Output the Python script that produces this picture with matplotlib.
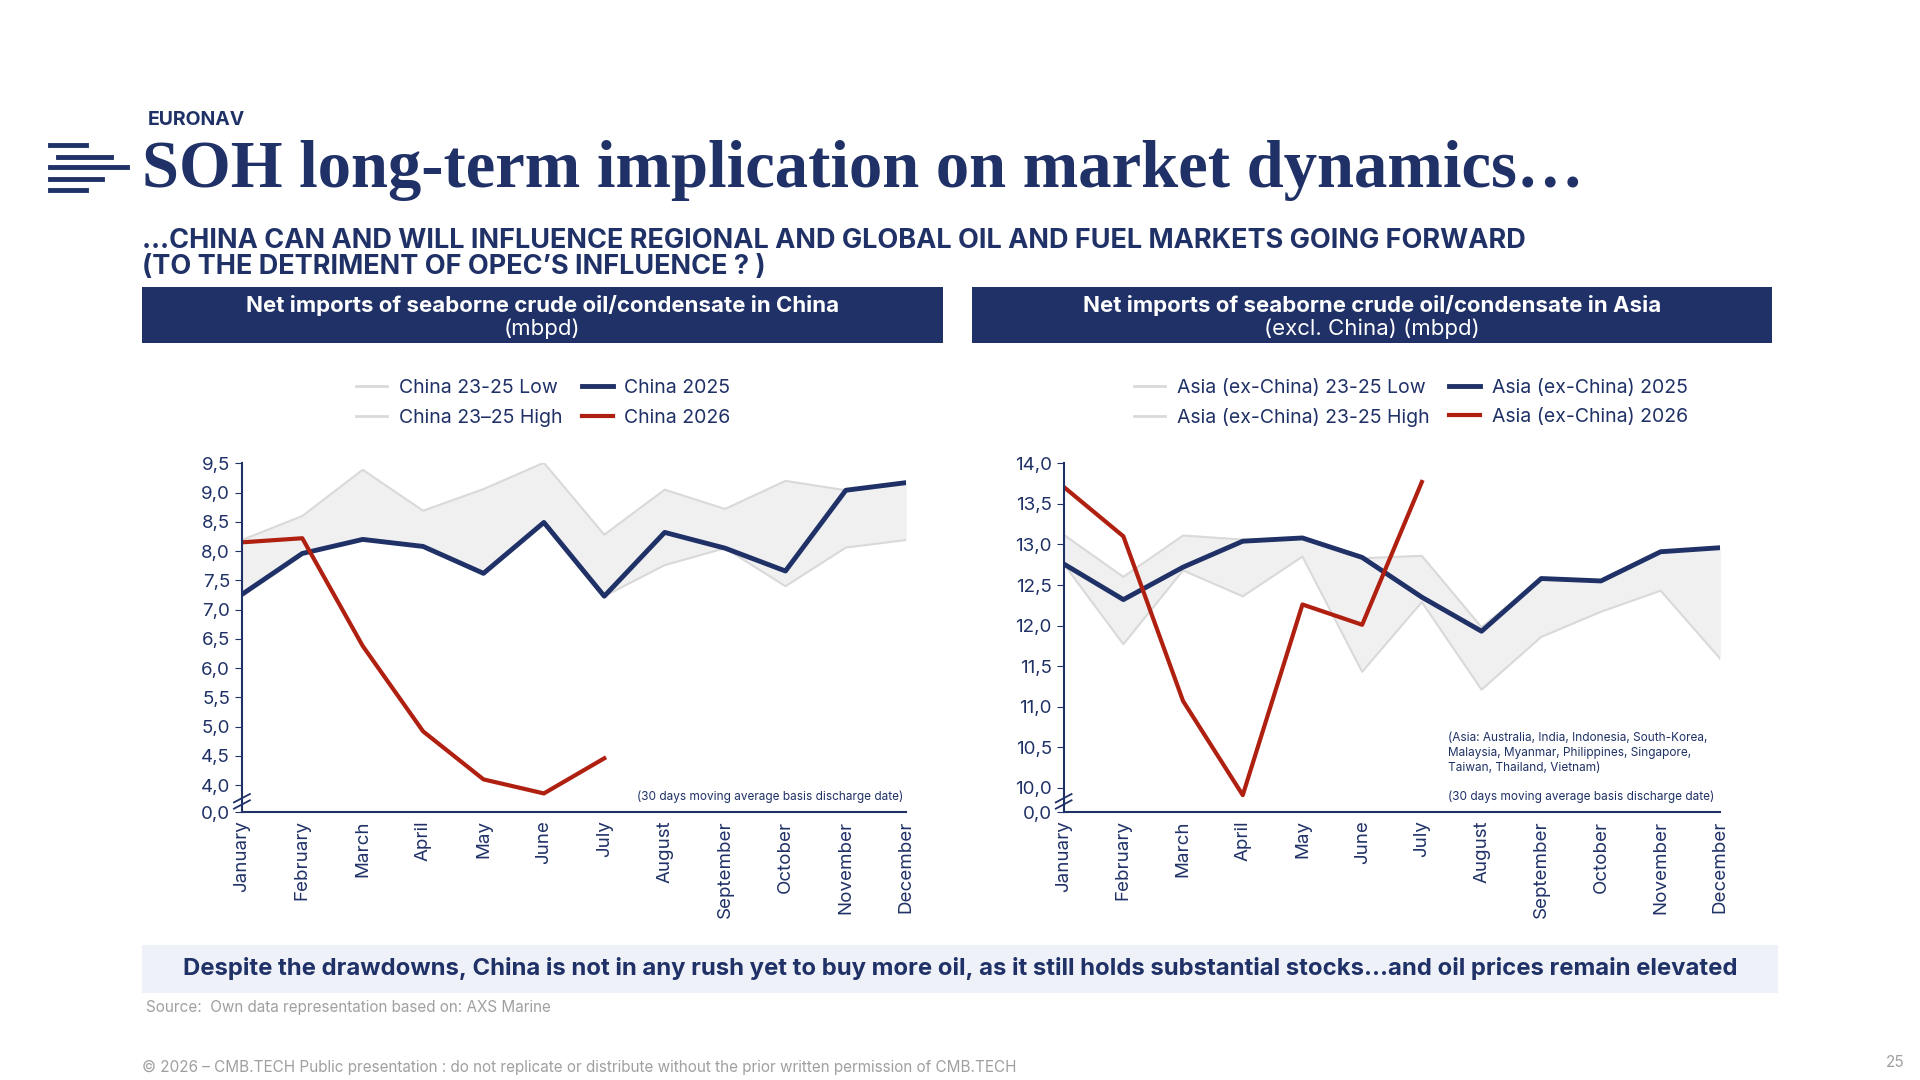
import numpy as np
import matplotlib
matplotlib.use("Agg")
from matplotlib import pyplot as plt
from matplotlib.patches import Rectangle

plt.rcParams['font.family'] = ['Inter', 'DejaVu Sans']

NAVY = "#1f3166"
RED = "#b02010"
GREY = "#d9d9d9"
FILL = "#f0f0f0"

months = ["January", "February", "March", "April", "May", "June", "July",
          "August", "September", "October", "November", "December"]
x = np.arange(12)

china = {
    "low": [7.26, 7.96, 8.20, 8.08, 7.62, 8.49, 7.23, 7.76, 8.05, 7.40, 8.06, 8.19],
    "high": [8.19, 8.60, 9.39, 8.69, 9.06, 9.51, 8.28, 9.05, 8.72, 9.20, 9.04, 9.17],
    "2025": [7.26, 7.96, 8.20, 8.08, 7.62, 8.49, 7.23, 8.32, 8.05, 7.66, 9.04, 9.17],
    "2026": [8.15, 8.22, 6.38, 4.92, 4.10, 3.86, 4.46],
}
asia = {
    "low": [12.76, 11.77, 12.68, 12.36, 12.85, 11.43, 12.29, 11.21, 11.86, 12.17, 12.43, 11.59],
    "high": [13.12, 12.60, 13.11, 13.06, 13.08, 12.83, 12.86, 11.98, 12.58, 12.55, 12.91, 12.96],
    "2025": [12.76, 12.32, 12.72, 13.04, 13.08, 12.84, 12.35, 11.93, 12.58, 12.55, 12.91, 12.96],
    "2026": [13.71, 13.10, 11.07, 9.91, 12.26, 12.01, 13.77],
}

fig = plt.figure(figsize=(19.2, 10.8), dpi=100)


def draw_panel(rect, d, name, ymin, ymax, ticks, header, sub, legend_x, notes):
    ax = fig.add_axes(rect)
    ax.fill_between(x, d["low"], d["high"], color=FILL, lw=0)
    ax.plot(x, d["low"], color=GREY, lw=1.5)
    ax.plot(x, d["high"], color=GREY, lw=1.5)
    ax.plot(x, d["2025"], color=NAVY, lw=3.5)
    ax.plot(x[:len(d["2026"])], d["2026"], color=RED, lw=3)
    ax.set_xlim(0, 11)
    ax.set_ylim(ymin, ymax)
    ax.set_yticks([ymin] + ticks)
    ax.set_yticklabels(["0,0"] + [f"{t:.1f}".replace(".", ",") for t in ticks])
    ax.set_xticks(x)
    ax.set_xticklabels(months, rotation=90, fontsize=13.5, color=NAVY)
    ax.tick_params(axis="y", labelsize=13.5, labelcolor=NAVY, color=NAVY, length=5)
    ax.tick_params(axis="x", length=0, pad=6)
    for s in ["top", "right"]:
        ax.spines[s].set_visible(False)
    for s in ["left", "bottom"]:
        ax.spines[s].set_color(NAVY)
        ax.spines[s].set_linewidth(1.5)
    # axis break marks
    kw = dict(transform=ax.transAxes, color=NAVY, lw=1.3, clip_on=False)
    for dy in (0.022, 0.04):
        ax.plot([-0.012, 0.012], [dy - 0.012, dy + 0.012], **kw)
    for t in notes:
        ax.text(t[0], t[1], t[2], transform=ax.transAxes, fontsize=8.5, color=NAVY,
                ha="left", va="bottom", linespacing=1.3)

    h = [plt.Line2D([], [], color=GREY, lw=2), plt.Line2D([], [], color=GREY, lw=2),
         plt.Line2D([], [], color=NAVY, lw=3.5), plt.Line2D([], [], color=RED, lw=3)]
    high = f"{name} 23\u201325 High" if name == "China" else f"{name} 23-25 High"
    labels = [f"{name} 23-25 Low", high, f"{name} 2025", f"{name} 2026"]
    fig.legend(h, labels, ncol=2, frameon=False, fontsize=14, labelcolor=NAVY,
               loc="center", bbox_to_anchor=(legend_x, 0.627),
               handlelength=1.6, columnspacing=1.0, handletextpad=0.6, labelspacing=0.6)
    # header bar
    fig.patches.append(Rectangle((header[0], 0.682), header[1], 0.052, transform=fig.transFigure,
                                 facecolor=NAVY, edgecolor="none"))
    fig.text(header[0] + header[1] / 2, 0.717, sub[0], ha="center", va="center", color="white",
             fontsize=16, fontweight="bold")
    fig.text(header[0] + header[1] / 2, 0.696, sub[1], ha="center", va="center", color="white",
             fontsize=16)
    return ax


draw_panel([0.126, 0.248, 0.346, 0.323], china, "China", 3.54, 9.5,
           [4.0, 4.5, 5.0, 5.5, 6.0, 6.5, 7.0, 7.5, 8.0, 8.5, 9.0, 9.5],
           (0.074, 0.417),
           ("Net imports of seaborne crude oil/condensate in China", "(mbpd)"), 0.283,
           [(0.595, 0.025, "(30 days moving average basis discharge date)")])
draw_panel([0.554, 0.248, 0.342, 0.323], asia, "Asia (ex-China)", 9.70, 14.0,
           [10.0, 10.5, 11.0, 11.5, 12.0, 12.5, 13.0, 13.5, 14.0],
           (0.506, 0.417),
           ("Net imports of seaborne crude oil/condensate in Asia", "(excl. China) (mbpd)"), 0.735,
           [(0.585, 0.11, "(Asia: Australia, India, Indonesia, South-Korea,\nMalaysia, Myanmar, Philippines, Singapore,\nTaiwan, Thailand, Vietnam)"),
            (0.585, 0.025, "(30 days moving average basis discharge date)")])

# titles
fig.text(0.077, 0.889, "EURONAV", fontsize=14, fontweight="bold", color=NAVY, va="center")
fig.text(0.074, 0.842, "SOH long-term implication on market dynamics\u2026", fontsize=48,
         fontweight="bold", color=NAVY, va="center", family=["Liberation Serif", "DejaVu Serif"])
fig.text(0.074, 0.765, "\u2026CHINA CAN AND WILL INFLUENCE REGIONAL AND GLOBAL OIL AND FUEL MARKETS GOING FORWARD\n(TO THE DETRIMENT OF OPEC\u2019S INFLUENCE ? )",
         fontsize=19.5, fontweight="bold", color=NAVY, va="center", linespacing=1.0)

# logo stripes
for yy, x0, x1 in [(0.866, 0.026, 0.045), (0.855, 0.030, 0.058), (0.845, 0.026, 0.066),
                   (0.834, 0.026, 0.053), (0.824, 0.026, 0.045)]:
    fig.add_artist(plt.Line2D([x0, x1], [yy, yy], color=NAVY, lw=3.5, transform=fig.transFigure))

# bottom banner
fig.patches.append(Rectangle((0.074, 0.081), 0.852, 0.044, transform=fig.transFigure,
                             facecolor="#eef1f8", edgecolor="none"))
fig.text(0.5, 0.103, "Despite the drawdowns, China is not in any rush yet to buy more oil, as it still holds substantial stocks\u2026and oil prices remain elevated",
         ha="center", va="center", fontsize=17.2, fontweight="bold", color=NAVY)
fig.text(0.076, 0.067, "Source:  Own data representation based on: AXS Marine", fontsize=11,
         color="#a0a0a0", va="center")
fig.text(0.074, 0.012, "\u00a9 2026 \u2013 CMB.TECH Public presentation : do not replicate or distribute without the prior written permission of CMB.TECH",
         fontsize=11, color="#a0a0a0", va="center")
fig.text(0.992, 0.016, "25", fontsize=11, color="#a0a0a0", ha="right", va="center")

fig.savefig("out.png", dpi=100, facecolor="white")
